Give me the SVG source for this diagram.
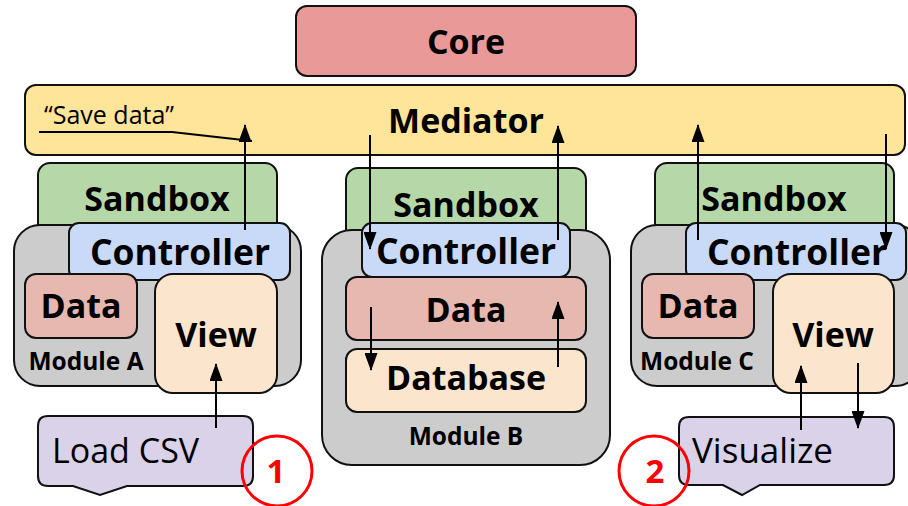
<svg xmlns="http://www.w3.org/2000/svg" width="908" height="506" viewBox="0 0 908 506">
  <style>
    .box { stroke: #111; stroke-width: 2; }
    .core { fill: #ea9999; }
    .med { fill: #ffe599; }
    .mod { fill: #cccccc; }
    .sand { fill: #b6d7a8; }
    .ctrl { fill: #c9daf8; }
    .data { fill: #e6b8af; }
    .view { fill: #fce5cd; }
    .ext { fill: #d9d2e9; }
    .lbl { font-family: "Open Sans", "DejaVu Sans", sans-serif; font-weight: bold; fill: #000; text-anchor: middle; }
    .big { font-size: 34px; }
    .mid { font-size: 34px; }
    .ctl { font-size: 35.5px; }
    .small { font-size: 24.5px; }
    .plain { font-family: "Open Sans", "DejaVu Sans", sans-serif; fill: #000; }
    .wire { stroke: #000; stroke-width: 2; fill: none; }
    .ring { fill: none; stroke: #ff0000; stroke-width: 3; }
    .num { font-family: "Open Sans", "DejaVu Sans", sans-serif; font-weight: bold; font-size: 33px; fill: #ff0000; text-anchor: middle; }
  </style>
  <defs>
    <marker id="arrow" markerUnits="userSpaceOnUse" markerWidth="18" markerHeight="13" viewBox="0 0 18 13" refX="17" refY="6.5" orient="auto">
      <path d="M0,0 L18,6.5 L0,13 Z" fill="#000"/>
    </marker>
  </defs>

  <rect width="908" height="506" fill="#ffffff"/>

  <g id="core">
    <rect class="box core" x="296" y="6" width="340" height="70" rx="11"/>
    <text class="lbl big" x="466" y="54">Core</text>
  </g>

  <g id="mediator">
    <rect class="box med" x="25" y="85" width="880" height="70" rx="11"/>
    <text class="lbl big" x="466" y="133">Mediator</text>
    <text class="plain" x="44" y="124" font-size="25">“Save data”</text>
    <polyline class="wire" points="39,132 172,132 252,141" stroke-width="1.6"/>
  </g>

  <!-- Module A -->
  <g id="module-a">
    <rect class="box sand" x="38" y="163" width="239" height="80" rx="12"/>
    <text class="lbl mid" x="157" y="211">Sandbox</text>
    <rect class="box mod" x="14" y="225" width="287" height="161" rx="26"/>
    <text class="lbl small" x="86" y="370">Module A</text>
    <rect class="box ctrl" x="69" y="223" width="221" height="57" rx="10"/>
    <text class="lbl ctl" x="180" y="265">Controller</text>
    <rect class="box data" x="25" y="274" width="112" height="64" rx="11"/>
    <text class="lbl mid" x="81" y="318">Data</text>
    <rect class="box view" x="155" y="274" width="122" height="119" rx="18"/>
    <text class="lbl mid" x="216" y="347">View</text>
  </g>

  <!-- Module B -->
  <g id="module-b">
    <rect class="box sand" x="346" y="168" width="240" height="80" rx="12"/>
    <text class="lbl mid" x="466" y="217">Sandbox</text>
    <rect class="box mod" x="322" y="230" width="288" height="235" rx="30"/>
    <text class="lbl small" x="466" y="445">Module B</text>
    <rect class="box ctrl" x="362" y="223" width="208" height="54" rx="10"/>
    <text class="lbl ctl" x="466" y="264">Controller</text>
    <rect class="box data" x="346" y="277" width="240" height="63" rx="11"/>
    <text class="lbl mid" x="466" y="322">Data</text>
    <rect class="box view" x="346" y="349" width="240" height="63" rx="11"/>
    <text class="lbl mid" x="466" y="390">Database</text>
  </g>

  <!-- Module C -->
  <g id="module-c">
    <rect class="box sand" x="655" y="163" width="239" height="80" rx="12"/>
    <text class="lbl mid" x="774" y="211">Sandbox</text>
    <rect class="box mod" x="631" y="225" width="290" height="161" rx="26"/>
    <text class="lbl small" x="697" y="370">Module C</text>
    <rect class="box ctrl" x="686" y="223" width="220" height="57" rx="10"/>
    <text class="lbl ctl" x="797" y="265">Controller</text>
    <rect class="box data" x="642" y="274" width="112" height="64" rx="11"/>
    <text class="lbl mid" x="698" y="318">Data</text>
    <rect class="box view" x="773" y="274" width="121" height="119" rx="18"/>
    <text class="lbl mid" x="833" y="347">View</text>
  </g>

  <!-- External actions -->
  <g id="load-csv">
    <path class="box ext" d="M48,416 H243 Q253,416 253,426 V476 Q253,486 243,486 H127 L100,495 L73,486 H48 Q38,486 38,476 V426 Q38,416 48,416 Z" stroke-width="1.5"/>
    <text class="plain" x="52" y="463" font-size="34">Load CSV</text>
  </g>
  <g id="visualize">
    <path class="box ext" d="M689,417 H884 Q894,417 894,427 V475 Q894,485 884,485 H760 L742,495 L723,485 H689 Q679,485 679,475 V427 Q679,417 689,417 Z" stroke-width="1.5"/>
    <text class="plain" x="692" y="463" font-size="35">Visualize</text>
  </g>

  <g id="step-1">
    <circle class="ring" cx="277" cy="471" r="35"/>
    <text class="num" x="276" y="483">1</text>
  </g>
  <g id="step-2">
    <circle class="ring" cx="654" cy="471" r="35"/>
    <text class="num" x="655" y="483">2</text>
  </g>

  <!-- Connectors -->
  <g id="connectors">
    <line class="wire" x1="245" y1="230" x2="245" y2="125" marker-end="url(#arrow)"/>
    <line class="wire" x1="216" y1="428" x2="216" y2="364" marker-end="url(#arrow)"/>

    <line class="wire" x1="370" y1="135" x2="370" y2="249" marker-end="url(#arrow)"/>
    <line class="wire" x1="558" y1="240" x2="558" y2="126" marker-end="url(#arrow)"/>
    <line class="wire" x1="371" y1="307" x2="371" y2="370" marker-end="url(#arrow)"/>
    <line class="wire" x1="558" y1="367" x2="558" y2="302" marker-end="url(#arrow)"/>

    <line class="wire" x1="698" y1="240" x2="698" y2="125" marker-end="url(#arrow)"/>
    <line class="wire" x1="886" y1="134" x2="886" y2="249" marker-end="url(#arrow)"/>
    <line class="wire" x1="801" y1="430" x2="801" y2="366" marker-end="url(#arrow)"/>
    <line class="wire" x1="858" y1="363" x2="858" y2="428" marker-end="url(#arrow)"/>
  </g>
</svg>
